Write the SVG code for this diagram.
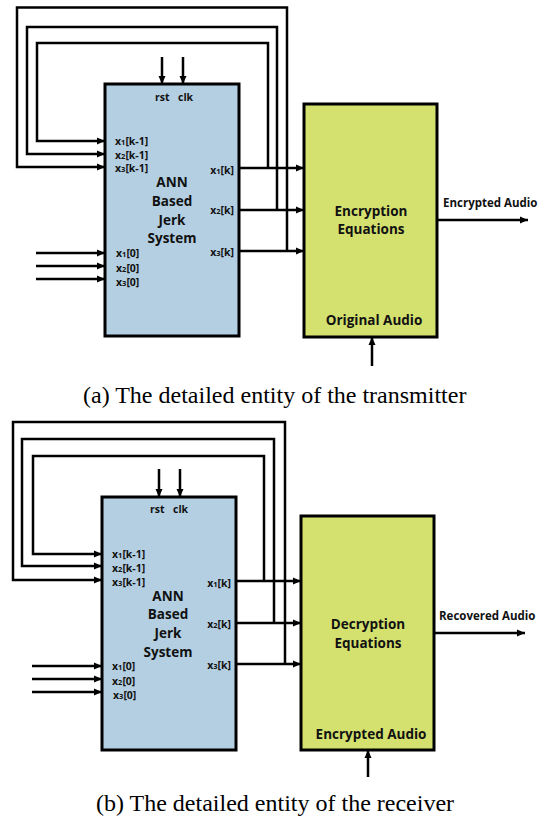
<svg xmlns="http://www.w3.org/2000/svg" width="547" height="827" viewBox="0 0 547 827">
<defs>
<marker id="ah" viewBox="0 0 8 8" refX="8" refY="4" markerWidth="8" markerHeight="8" markerUnits="userSpaceOnUse" orient="auto">
<path d="M0,0.5 L8,4 L0,7.5 Z" fill="#000"/>
</marker>
</defs>
<style>
.w{fill:none;stroke:#000;stroke-width:2.5;stroke-linejoin:miter;stroke-linecap:butt}
.a{fill:none;stroke:#000;stroke-width:2.5;marker-end:url(#ah)}
.ann{fill:#B3CFE1;stroke:#000;stroke-width:3}
.eq{fill:#D4E16F;stroke:#000;stroke-width:3}
.s{font-family:"Open Sans",sans-serif;font-weight:bold;font-size:10.5px;fill:#111}
.sub{font-size:7.5px}
.m{font-family:"Open Sans",sans-serif;font-weight:bold;font-size:13.5px;fill:#111;text-anchor:middle}
.o{font-family:"Open Sans",sans-serif;font-weight:bold;font-size:11.5px;fill:#111}
.cap{font-family:"Liberation Serif",serif;font-size:24px;fill:#000}
</style>

<!-- Top: transmitter -->
<g id="tx-ann">
<rect class="ann" x="105" y="84" width="134" height="252"/>
<text class="s" x="155" y="101">rst</text>
<text class="s" x="178" y="101">clk</text>
<text class="s" x="115" y="145">x<tspan class="sub">1</tspan>[k-1]</text>
<text class="s" x="115" y="159">x<tspan class="sub">2</tspan>[k-1]</text>
<text class="s" x="115" y="172">x<tspan class="sub">3</tspan>[k-1]</text>
<text class="s" x="234" y="174" text-anchor="end">x<tspan class="sub">1</tspan>[k]</text>
<text class="s" x="234" y="214" text-anchor="end">x<tspan class="sub">2</tspan>[k]</text>
<text class="s" x="234" y="256" text-anchor="end">x<tspan class="sub">3</tspan>[k]</text>
<text class="s" x="116" y="257">x<tspan class="sub">1</tspan>[0]</text>
<text class="s" x="116" y="272">x<tspan class="sub">2</tspan>[0]</text>
<text class="s" x="116" y="286">x<tspan class="sub">3</tspan>[0]</text>
<text class="m" x="172" y="187">ANN</text>
<text class="m" x="172" y="206">Based</text>
<text class="m" x="172" y="225">Jerk</text>
<text class="m" x="172" y="243">System</text>
</g>
<g id="tx-enc">
<rect class="eq" x="304" y="104" width="133" height="233"/>
<text class="m" x="371" y="216">Encryption</text>
<text class="m" x="371" y="234">Equations</text>
<text class="m" x="374" y="325">Original Audio</text>
</g>
<text class="o" x="443" y="207">Encrypted Audio</text>
<text class="cap" x="83" y="403">(a) The detailed entity of the transmitter</text>

<!-- Bottom: receiver -->
<g id="rx-ann">
<rect class="ann" x="102" y="497" width="134" height="253"/>
<text class="s" x="150" y="513">rst</text>
<text class="s" x="173" y="513">clk</text>
<text class="s" x="112" y="558">x<tspan class="sub">1</tspan>[k-1]</text>
<text class="s" x="112" y="572">x<tspan class="sub">2</tspan>[k-1]</text>
<text class="s" x="112" y="586">x<tspan class="sub">3</tspan>[k-1]</text>
<text class="s" x="231" y="587" text-anchor="end">x<tspan class="sub">1</tspan>[k]</text>
<text class="s" x="231" y="628" text-anchor="end">x<tspan class="sub">2</tspan>[k]</text>
<text class="s" x="231" y="669" text-anchor="end">x<tspan class="sub">3</tspan>[k]</text>
<text class="s" x="112" y="670">x<tspan class="sub">1</tspan>[0]</text>
<text class="s" x="112" y="685">x<tspan class="sub">2</tspan>[0]</text>
<text class="s" x="113" y="699">x<tspan class="sub">3</tspan>[0]</text>
<text class="m" x="168" y="601">ANN</text>
<text class="m" x="168" y="619">Based</text>
<text class="m" x="168" y="638">Jerk</text>
<text class="m" x="168" y="657">System</text>
</g>
<g id="rx-dec">
<rect class="eq" x="301" y="516" width="133" height="234"/>
<text class="m" x="368" y="629">Decryption</text>
<text class="m" x="368" y="648">Equations</text>
<text class="m" x="371" y="739">Encrypted Audio</text>
</g>
<text class="o" x="439" y="620">Recovered Audio</text>
<text class="cap" x="96" y="811">(b) The detailed entity of the receiver</text>

<g id="connectors">
<!-- top feedback loops -->
<path class="a" d="M268,168 V43 H37 V141 H105"/>
<path class="a" d="M277,210 V27 H27 V154 H105"/>
<path class="a" d="M287,251 V7.5 H17 V167 H105"/>
<path class="a" d="M162,57 V84"/>
<path class="a" d="M183,57 V84"/>
<path class="a" d="M36,253 H105"/>
<path class="a" d="M36,266 H105"/>
<path class="a" d="M36,279 H105"/>
<path class="a" d="M239,168 H304"/>
<path class="a" d="M239,210 H304"/>
<path class="a" d="M239,251 H304"/>
<path class="a" d="M437,220 H528"/>
<path class="a" d="M372,366 V337"/>
<!-- bottom feedback loops -->
<path class="a" d="M264,581 V456 H33 V554 H102"/>
<path class="a" d="M274,623 V439 H22 V566 H102"/>
<path class="a" d="M285,664 V422 H13 V580 H102"/>
<path class="a" d="M159,469 V497"/>
<path class="a" d="M180,469 V497"/>
<path class="a" d="M32,666 H102"/>
<path class="a" d="M32,679 H102"/>
<path class="a" d="M32,692 H102"/>
<path class="a" d="M236,581 H301"/>
<path class="a" d="M236,623 H301"/>
<path class="a" d="M236,664 H301"/>
<path class="a" d="M434,633 H525"/>
<path class="a" d="M368,777 V750"/>
</g>
</svg>
